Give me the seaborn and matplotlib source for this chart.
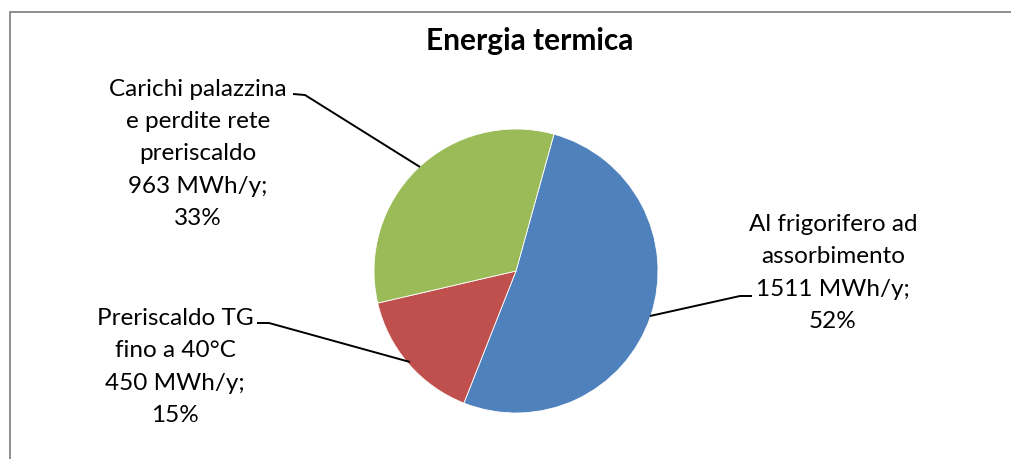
import matplotlib
matplotlib.use("Agg")
import matplotlib.pyplot as plt
from matplotlib.patches import Rectangle
import seaborn as sns

# Thermal energy split (MWh/y)
categories = ["Al frigorifero ad\nassorbimento", "Preriscaldo TG\nfino a 40°C",
              "Carichi palazzina\ne perdite rete\npreriscaldo"]
values = [1511, 450, 963]
percent_labels = ["52%", "15%", "33%"]
colors = ["#4F81BD", "#C0504D", "#9BBB59"]
title = "Energia termica"

sns.set_theme(style="white")
plt.rcParams["font.family"] = ["Lato", "DejaVu Sans"]

W, H = 1011, 460
fig = plt.figure(figsize=(W / 100, H / 100), dpi=100)
ax = fig.add_axes([0, 0, 1, 1])

# pie geometry in pixels: centre and radius
cx, cy, R = 516, 272, 142


def px(x, y):
    return ((x - cx) / R, (cy - y) / R)


ax.pie(values, colors=colors, startangle=74.5, counterclock=False, radius=1.0,
       wedgeprops=dict(edgecolor="white", linewidth=0.6))

ax.set_xlim(-cx / R, (W - cx) / R)
ax.set_ylim(-(H - cy) / R, cy / R)
ax.set_aspect("equal")
ax.axis("off")

# chart frame
fig.patches.append(Rectangle((10 / W, -0.1), 1.5, (H - 13) / H + 0.1,
                             transform=fig.transFigure, fill=False,
                             edgecolor="#868686", linewidth=1.3))

ax.text(*px(530, 41), title, ha="center", va="center", fontsize=21.5,
        fontweight="bold", color="black")

# data labels with leader lines
label_pos = [(833, 273), (175, 367), (198, 154)]
elbows = [((752, 297), (740, 297), (650, 317)),
          ((257, 324), (269, 324), (410, 363)),
          ((293, 95), (305, 96), (420, 168))]
for cat, v, pct, (lx, ly), pts in zip(categories, values, percent_labels, label_pos, elbows):
    txt = f"{cat}\n{v} MWh/y;\n{pct}"
    ax.text(*px(lx, ly), txt, ha="center", va="center", fontsize=17.5,
            linespacing=1.65, color="black")
    xs = [px(*p)[0] for p in pts]
    ys = [px(*p)[1] for p in pts]
    ax.plot(xs, ys, color="black", linewidth=1.4, solid_capstyle="butt")

fig.savefig("out.png", dpi=100)
